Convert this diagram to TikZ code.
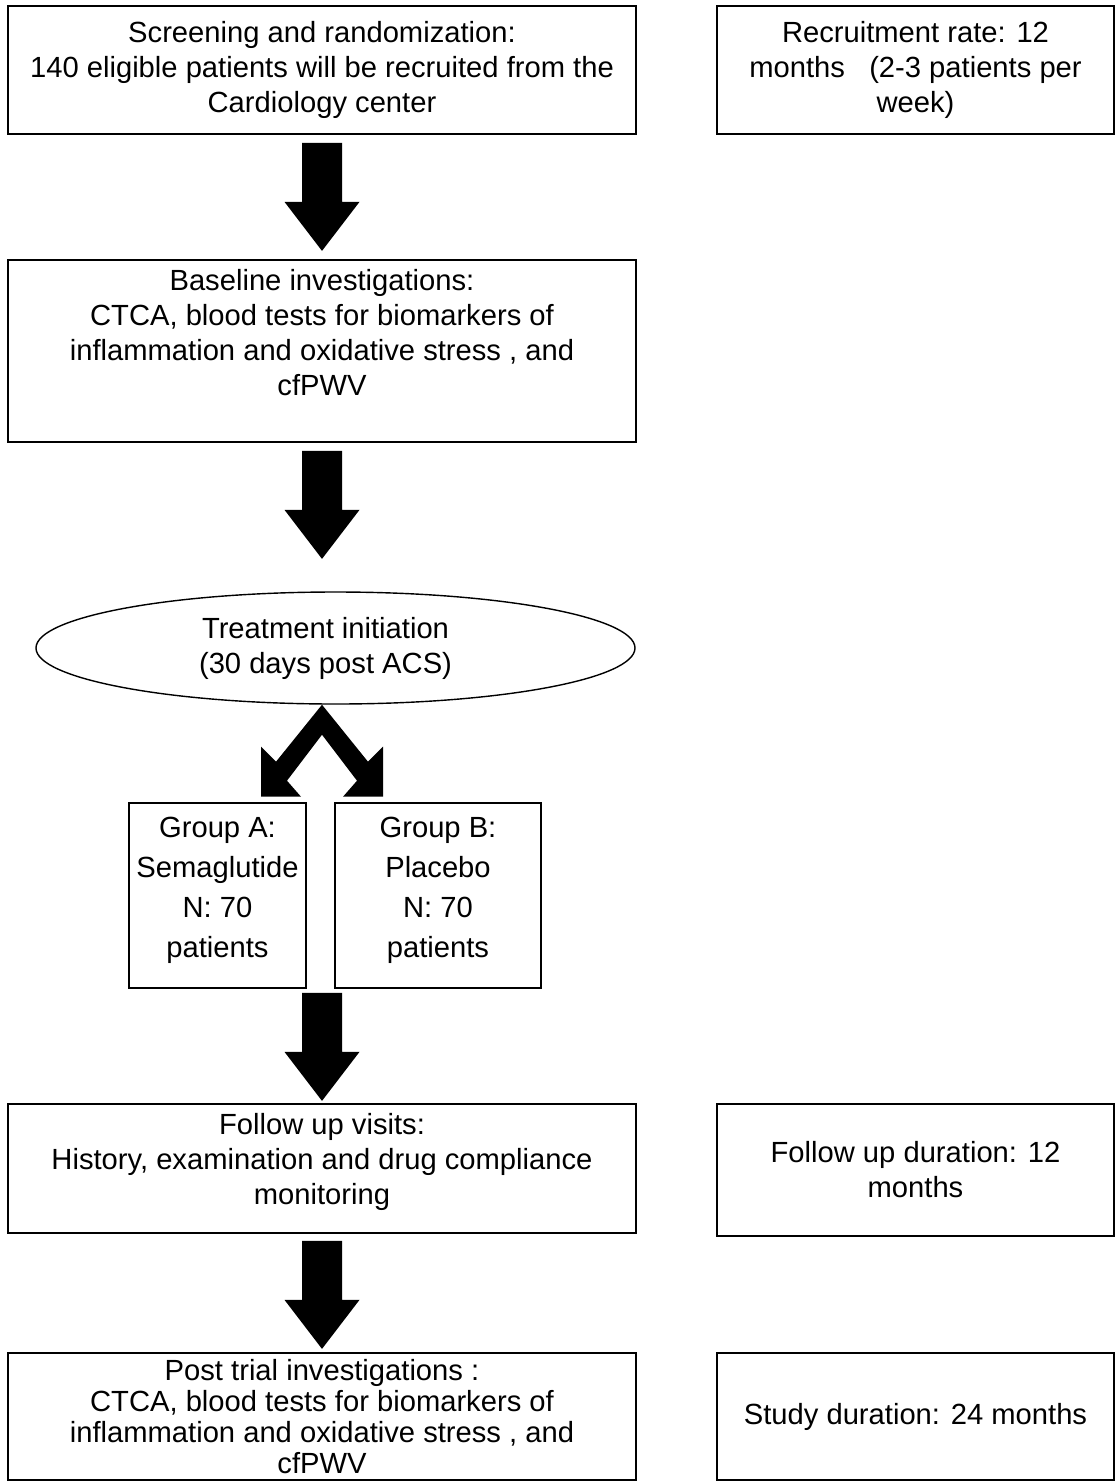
\documentclass[tikz,border=0pt]{standalone}
\usepackage{fontspec}
\setmainfont{Liberation Sans}
\usepackage{tikz}
\usetikzlibrary{calc}
\usetikzlibrary{shapes.geometric}

\tikzset{
  caja/.style={draw, line width=1pt, align=center, inner sep=2pt},
  elipse/.style={draw, ellipse, line width=0.8pt, align=center, inner sep=0pt},
  flecha/.pic={\fill (-0.4,0) -- (0.4,0) -- (0.4,-1.18) -- (0.75,-1.18) -- (0,-2.16) -- (-0.75,-1.18) -- (-0.4,-1.18) -- cycle;},
  bifurca/.pic={\fill (0,0) -- (0.92,-1.14) -- (1.22,-0.84) -- (1.22,-1.84) -- (0.42,-1.84) -- (0.7,-1.52) -- (0,-0.6) -- (-0.7,-1.52) -- (-0.42,-1.84) -- (-1.22,-1.84) -- (-1.22,-0.84) -- (-0.92,-1.14) -- cycle;}
}

\begin{document}
\begin{tikzpicture}[font=\fontsize{16.6}{19.9}\selectfont]
  \useasboundingbox (0,0) rectangle (22.38,-29.66);
  % columna principal
  \node [caja, minimum width=12.56cm, minimum height=2.56cm] (screen) at (6.44,-1.40) {Screening and randomization:\\140 eligible patients will be recruited from the\\Cardiology center};
  \node [caja, minimum width=12.56cm, minimum height=3.64cm] (baseline) at (6.44,-7.02) {Baseline investigations:\\CTCA, blood tests for biomarkers of\\inflammation and oxidative stress , and\\cfPWV\rule[-0.75cm]{0pt}{0pt}};
  \node [elipse, minimum width=11.98cm, minimum height=2.24cm] (treat) at (6.71,-12.96) {\hspace*{-0.4cm}Treatment initiation\\\hspace*{-0.4cm}(30 days post ACS)};
  \node [caja, minimum width=3.54cm, minimum height=3.7cm, font=\fontsize{16.6}{22.7}\selectfont] (groupA) at (4.35,-17.91) {Group A:\\Semaglutide\\N: 70\\patients\rule[-0.32cm]{0pt}{0pt}};
  \node [caja, minimum width=4.12cm, minimum height=3.7cm, font=\fontsize{16.6}{22.7}\selectfont] (groupB) at (8.76,-17.91) {Group B:\\Placebo\\N: 70\\patients\rule[-0.32cm]{0pt}{0pt}};
  \node [caja, minimum width=12.56cm, minimum height=2.58cm] (follow) at (6.44,-23.37) {Follow up visits:\\History, examination and drug compliance\\monitoring\rule[-0.38cm]{0pt}{0pt}};
  \node [caja, minimum width=12.56cm, minimum height=2.54cm, font=\fontsize{16.6}{17.6}\selectfont] (post) at (6.44,-28.33) {Post trial investigations :\\CTCA, blood tests for biomarkers of\\inflammation and oxidative stress , and\\cfPWV};
  % columna derecha
  \node [caja, minimum width=7.94cm, minimum height=2.56cm] (recruit) at (18.31,-1.40) {Recruitment rate: 12\\months\ \ \ (2-3 patients per\\week)};
  \node [caja, minimum width=7.94cm, minimum height=2.64cm] (fdur) at (18.31,-23.40) {Follow up duration: 12\\months};
  \node [caja, minimum width=7.94cm, minimum height=2.54cm] (sdur) at (18.31,-28.33) {Study duration: 24 months};
  % flechas
  \pic at ($(screen.south)+(0,-0.16)$) {flecha};
  \pic at ($(baseline.south)+(0,-0.16)$) {flecha};
  \pic at (treat.south -| screen.south) {bifurca};
  \pic at ($(groupA.south -| screen.south)+(0,-0.08)$) {flecha};
  \pic at ($(follow.south)+(0,-0.14)$) {flecha};
\end{tikzpicture}
\end{document}
